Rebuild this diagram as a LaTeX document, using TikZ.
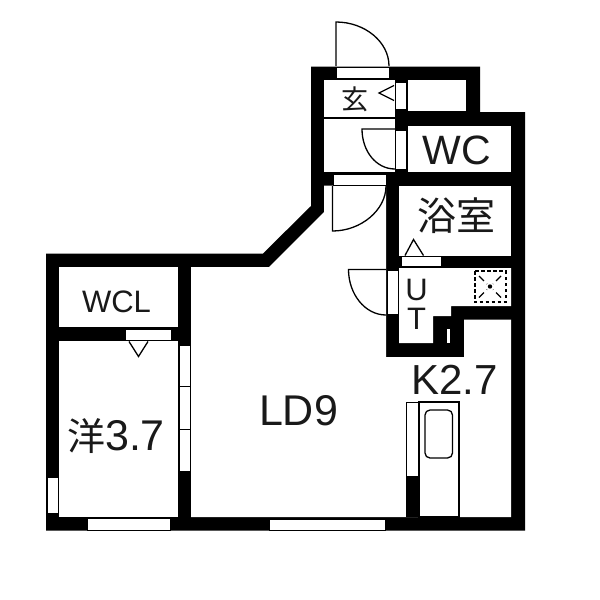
\documentclass[tikz,border=0pt]{standalone}
\usepackage{fontspec}
\setmainfont{Liberation Sans}
\newfontfamily\cjk{Noto Sans CJK JP}
\usepackage{tikz}
\tikzstyle{wall} = [fill=black]
\tikzstyle{room} = [fill=white]
\tikzstyle{pane} = [fill=white,draw=black,line width=1pt]
\tikzstyle{thin line} = [draw=black,line width=1.1pt]
\tikzstyle{door} = [draw=black,line width=1.3pt]
\tikzstyle{label} = [inner sep=0pt,text=black!90]

\begin{document}
\begin{tikzpicture}[x=1pt,y=-1pt]
   \useasboundingbox (0,0) rectangle (600,600);
   \path[wall] (311,66.5) -- (480,66.5) -- (480,112) -- (525,112) -- (525,530.5) -- (46,530.5) -- (46,253.5) -- (263,253.5) -- (311,206) -- cycle;
   \path[room] (324,79.5) rectangle (395,172);
   \path[room] (408,80) rectangle (466,111);
   \path[room] (408,125.5) rectangle (511,172);
   \path[room] (399,185.5) rectangle (511,255.5);
   \path[room] (59,267) rectangle (178,327);
   \path[room] (59,341) rectangle (178,517);
   \path[room] (399,268) -- (511,268) -- (511,306) -- (451,306) -- (451,316) -- (433,316) -- (433,343) -- (399,343) -- cycle;
   \path[room] (447,329) rectangle (450,343);
   \path[room] (324,185.5) -- (386,185.5) -- (386,357) -- (464,357) -- (464,319.5) -- (511,319.5) -- (511,517) -- (191,517) -- (191,267) -- (269,267) -- (324,212) -- cycle;

   \draw[pane] (336.5,67.5) rectangle (389,78);
   \draw[pane] (395,82) rectangle (406.5,109);
   \draw[pane] (395,130.5) rectangle (406.5,169);
   \draw[pane] (333.5,174.5) rectangle (386,185);
   \draw[pane] (401.5,256.5) rectangle (441.5,266.5);
   \draw[pane] (387.5,270.5) rectangle (398,314);
   \draw[pane] (125.5,329) rectangle (171.5,340);
   \foreach \ya/\yb in {345/386,386/429,429/471}
      \draw[pane] (179,\ya) rectangle (190,\yb);
   \draw[pane] (47,477) rectangle (58,513);
   \draw[pane] (87,518.5) rectangle (170,530);
   \draw[pane] (269,519) rectangle (385.5,530);

   \draw[door] (336,66) -- (336,22) .. controls (365,22) and (389,42) .. (389,66);
   \draw[door] (395,129) -- (362,129) .. controls (362,151) and (376,169) .. (395,169);
   \draw[door] (332.5,186) -- (332.5,231) .. controls (361,231) and (386,210) .. (386,186);
   \draw[door] (386,269.5) -- (348.5,269.5) .. controls (348.5,294) and (365,315) .. (386,315);

   \draw[thin line] (324,118) -- (395,118);
   \draw[door] (394,85.5) -- (379,93) -- (394,100.5);
   \draw[door] (405,255.5) -- (413.5,239.5) -- (423.5,255.5);
   \draw[door] (129,341.5) -- (138.5,356.5) -- (148,341.5);

   \draw[thin line,dash pattern=on 3.5pt off 2.5pt,line width=2pt] (474.5,271) rectangle (505.5,302);
   \draw[thin line,dash pattern=on 7pt off 4pt,line width=1.3pt] (479,276) -- (487,284) (501,276) -- (493,284) (479,297.5) -- (487,289.5) (501,297.5) -- (493,289.5);
   \fill (490,286.5) circle (2.2pt);

   \draw[pane] (406,402) rectangle (419,476);
   \fill[black] (405.5,476) rectangle (419,517);
   \draw[thin line] (419,402) rectangle (459,517);
   \draw[thin line,rounded corners=5pt,line width=1.3pt] (425,410) rectangle (452.5,458);

   \node[label,font=\cjk\fontsize{27}{27}\selectfont] (genkan) at (355,99) {玄};
   \node[label,font=\fontsize{41}{41}\selectfont] (wc) at (457,150) {WC};
   \node[label,font=\cjk\fontsize{39}{39}\selectfont] (bath) at (456,216) {浴室};
   \node[label,font=\fontsize{31}{31}\selectfont] (u) at (416.5,290) {U};
   \node[label,font=\fontsize{31}{31}\selectfont] (t) at (416.5,319) {T};
   \node[label,font=\fontsize{31}{31}\selectfont] (wcl) at (116.5,301.5) {WCL};
   \node[label,font=\fontsize{43}{43}\selectfont] (ld) at (298.5,411) {LD9};
   \node[label,font=\fontsize{42}{42}\selectfont] (kitchen) at (454.5,379.5) {K2.7};
   \node[label,font=\fontsize{43}{43}\selectfont] (western) at (116,436) {{\cjk\fontsize{38}{38}\selectfont 洋}3.7};
\end{tikzpicture}
\end{document}
